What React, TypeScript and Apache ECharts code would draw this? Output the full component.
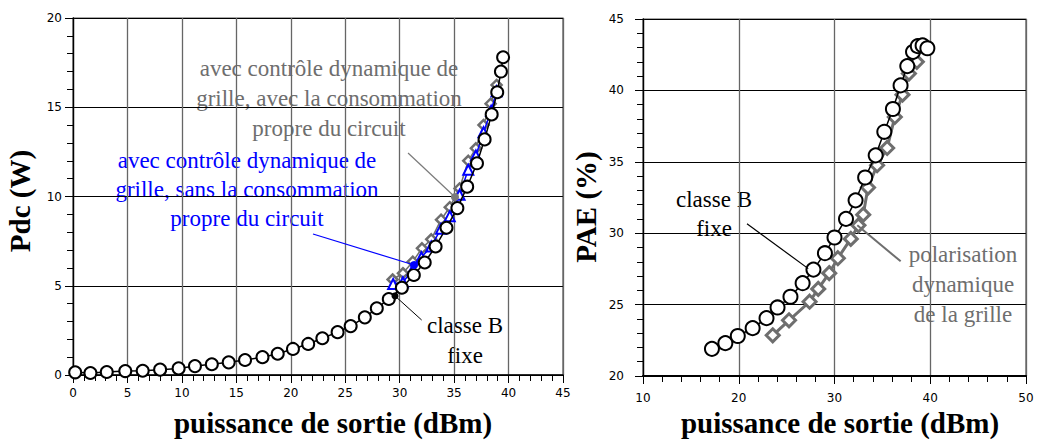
import React, { useEffect, useRef } from "react";
import * as echarts from "echarts";

// ---- Left chart: Pdc (W) vs puissance de sortie (dBm) ----
const pdcClasseB: [number, number][] = [
  [0.2, 0.15], [1.6, 0.11], [3.1, 0.17], [4.8, 0.22], [6.4, 0.24], [8.0, 0.3],
  [9.7, 0.37], [11.2, 0.5], [12.75, 0.6], [14.3, 0.71], [15.8, 0.84], [17.4, 1.0],
  [18.8, 1.19], [20.2, 1.46], [21.6, 1.74], [22.9, 2.06], [24.3, 2.4], [25.5, 2.74],
  [26.8, 3.23], [27.9, 3.74], [29.0, 4.26], [30.2, 4.89], [31.3, 5.6], [32.3, 6.3],
  [33.3, 7.2], [34.3, 8.25], [35.3, 9.35], [36.2, 10.55], [37.1, 11.86], [37.8, 13.2],
  [38.45, 14.6], [38.96, 15.84], [39.3, 17.0], [39.5, 17.8],
];
const pdcSansConso: [number, number][] = [
  [29.4, 5.1], [30.3, 5.2], [31.2, 5.9], [32.0, 6.6], [32.9, 7.2], [33.8, 8.2],
  [34.6, 8.9], [35.5, 10.1], [36.3, 11.5], [37.0, 12.3], [37.7, 13.6], [38.4, 14.8],
  [38.9, 15.9],
];
const pdcAvecConso: [number, number][] = [
  [29.35, 5.35], [30.3, 5.7], [31.2, 6.35], [32.05, 7.1], [32.9, 7.6], [33.8, 8.7],
  [34.6, 9.4], [35.5, 10.45], [36.3, 12.0], [37.0, 12.7], [37.7, 14.0], [38.35, 15.2],
  [38.9, 16.25],
];

// ---- Right chart: PAE (%) vs puissance de sortie (dBm) ----
const paeClasseB: [number, number][] = [
  [17.2, 21.9], [18.6, 22.3], [19.9, 22.8], [21.45, 23.35], [22.9, 24.05], [24.05, 24.8],
  [25.4, 25.55], [26.67, 26.5], [27.8, 27.45], [29.0, 28.6], [30.0, 29.7], [31.2, 31.0],
  [32.2, 32.3], [33.2, 33.9], [34.3, 35.45], [35.2, 37.1], [36.1, 38.7], [36.9, 40.35],
  [37.6, 41.7], [38.2, 42.7], [38.7, 43.1], [39.2, 43.15], [39.7, 42.95],
];
const paeDynamique: [number, number][] = [
  [23.55, 22.85], [25.25, 23.9], [27.4, 25.2], [28.3, 26.1], [29.45, 27.2], [30.35, 28.25],
  [31.7, 29.6], [32.5, 30.55], [33.0, 31.3], [33.5, 33.2], [34.45, 34.76], [35.5, 35.97],
  [36.3, 38.14], [37.1, 39.7], [37.77, 41.18], [38.6, 42.0],
];

// annotation pointers (data coordinates)
const ptrLeftGray: [number, number][] = [[30.77, 12.44], [35.08, 9.97]];
const ptrLeftBlue: [number, number][] = [[22.04, 7.9], [31.32, 6.16]];
const ptrLeftBlack: [number, number][] = [[32.02, 3.08], [29.57, 4.43]];
const ptrRightBlack: [number, number][] = [[20.86, 30.66], [27.26, 27.52]];
const ptrRightGray: [number, number][] = [[36.91, 28.03], [32.38, 30.55]];

const xTitle = "puissance de sortie (dBm)";
const GRAY = "#6e6e6e";
const SERIF = "'Liberation Serif', 'Times New Roman', serif";
const SANS = "'DejaVu Sans', Tahoma, sans-serif";

function pointer(pts: [number, number][], color: string, width: number, dot: number) {
  return {
    silent: true,
    animation: false,
    symbol: ["none", "none"],
    label: { show: false },
    lineStyle: { color, width, type: "solid" as const },
    emphasis: { disabled: true },
    data: [
      [
        { coord: pts[0], symbol: "none" },
        dot > 0
          ? { coord: pts[1], symbol: "circle", symbolSize: dot, itemStyle: { color } }
          : { coord: pts[1], symbol: "none" },
      ],
    ],
  };
}

function xAxisCfg(gridIndex: number, min: number, max: number, interval: number, margin: number, lw: number) {
  return {
    type: "value" as const,
    gridIndex,
    min,
    max,
    interval,
    axisLine: { show: true, onZero: false, lineStyle: { color: "#000", width: lw } },
    axisTick: { show: true, inside: false, length: 8, lineStyle: { color: "#000", width: 1 } },
    minorTick: { show: true, splitNumber: 5, length: 6, lineStyle: { color: "#000", width: 1 } },
    axisLabel: { color: "#000", fontFamily: SANS, fontSize: 12, margin },
    splitLine: { show: true, lineStyle: { color: "#666", width: 1.3 } },
  };
}

function yAxisCfg(gridIndex: number, min: number, max: number, interval: number, margin: number) {
  return {
    type: "value" as const,
    gridIndex,
    min,
    max,
    interval,
    axisLine: { show: true, onZero: false, lineStyle: { color: "#000", width: 1.3 } },
    axisTick: { show: true, inside: false, length: 8, lineStyle: { color: "#000", width: 1 } },
    minorTick: { show: true, splitNumber: 5, length: 6, lineStyle: { color: "#000", width: 1 } },
    axisLabel: { color: "#000", fontFamily: SANS, fontSize: 12, margin },
    splitLine: { show: true, lineStyle: { color: "#000", width: 1.2 } },
  };
}

export default function App() {
  const ref = useRef<HTMLDivElement>(null);

  useEffect(() => {
    if (!ref.current) return;
    const chart = echarts.init(ref.current, null, { renderer: "svg" });

    const annText = (text: string, x: number, y: number, color: string, lh: number) => ({
      type: "text",
      x,
      y,
      silent: true,
      style: {
        text,
        fill: color,
        fontSize: 23,
        fontFamily: SERIF,
        textAlign: "center",
        textVerticalAlign: "middle",
        lineHeight: lh,
      },
    });

    const titleText = (text: string, x: number, y: number, rotation = 0) => ({
      type: "text",
      x,
      y,
      rotation,
      silent: true,
      style: {
        text,
        fill: "#000",
        fontSize: 29,
        fontWeight: "bold",
        fontFamily: SERIF,
        textAlign: "center",
        textVerticalAlign: "middle",
      },
    });

    chart.setOption({
      animation: false,
      backgroundColor: "#fff",
      grid: [
        { left: 73, top: 18, width: 490, height: 357, show: true, borderColor: "#555", borderWidth: 1.2, backgroundColor: "transparent" },
        { left: 643, top: 19, width: 383, height: 357, show: true, borderColor: "#555", borderWidth: 1.2, backgroundColor: "transparent" },
      ],
      xAxis: [xAxisCfg(0, 0, 45, 5, 12, 1.5), xAxisCfg(1, 10, 50, 10, 16, 2.2)],
      yAxis: [yAxisCfg(0, 0, 20, 5, 11), yAxisCfg(1, 20, 45, 5, 19)],
      series: [
        {
          type: "line",
          xAxisIndex: 0,
          yAxisIndex: 0,
          data: pdcAvecConso,
          symbol: "diamond",
          symbolSize: 10,
          lineStyle: { color: GRAY, width: 1.5 },
          itemStyle: { color: "#fff", borderColor: GRAY, borderWidth: 2.5 },
          markLine: pointer(ptrLeftGray, "#7a7a7a", 1.2, 8),
          z: 2,
        },
        {
          type: "line",
          xAxisIndex: 0,
          yAxisIndex: 0,
          data: pdcSansConso,
          symbol: "triangle",
          symbolSize: 10,
          lineStyle: { color: "#0000ff", width: 1.5 },
          itemStyle: { color: "#fff", borderColor: "#0000ff", borderWidth: 2 },
          markLine: pointer(ptrLeftBlue, "#0000ff", 1.2, 8),
          z: 3,
        },
        {
          type: "line",
          xAxisIndex: 0,
          yAxisIndex: 0,
          data: pdcClasseB,
          symbol: "circle",
          symbolSize: 12,
          lineStyle: { color: "#000", width: 1.5 },
          itemStyle: { color: "#fff", borderColor: "#000", borderWidth: 2 },
          markLine: pointer(ptrLeftBlack, "#000", 1, 7),
          z: 4,
        },
        {
          type: "line",
          xAxisIndex: 1,
          yAxisIndex: 1,
          data: paeDynamique,
          symbol: "diamond",
          symbolSize: 13,
          lineStyle: { color: GRAY, width: 3 },
          itemStyle: { color: "#fff", borderColor: GRAY, borderWidth: 3 },
          markLine: pointer(ptrRightGray, GRAY, 2, 0),
          z: 2,
        },
        {
          type: "line",
          xAxisIndex: 1,
          yAxisIndex: 1,
          data: paeClasseB,
          symbol: "circle",
          symbolSize: 14,
          lineStyle: { color: "#000", width: 1.5 },
          itemStyle: { color: "#fff", borderColor: "#000", borderWidth: 2 },
          markLine: pointer(ptrRightBlack, "#000", 1.2, 0),
          z: 3,
        },
      ],
      graphic: [
        titleText(xTitle, 333, 423),
        titleText(xTitle, 840, 423),
        titleText("Pdc (W)", 20, 201, Math.PI / 2),
        titleText("PAE (%)", 586, 207, Math.PI / 2),
        annText("avec contrôle dynamique de\ngrille, avec la consommation\npropre du circuit", 329, 98, GRAY, 30),
        annText("avec contrôle dynamique de\ngrille, sans la consommation\npropre du circuit", 247, 189, "#0000ff", 29),
        annText("classe B\nfixe", 465, 340, "#000", 30),
        annText("classe B\nfixe", 714, 213.5, "#000", 29),
        annText("polarisation\ndynamique\nde la grille", 963, 284, GRAY, 30),
      ],
    });

    return () => {
      chart.dispose();
    };
  }, []);

  return (
    <div
      ref={ref}
      style={{ position: "fixed", left: 0, top: 0, width: 1039, height: 443, background: "#fff" }}
    />
  );
}
